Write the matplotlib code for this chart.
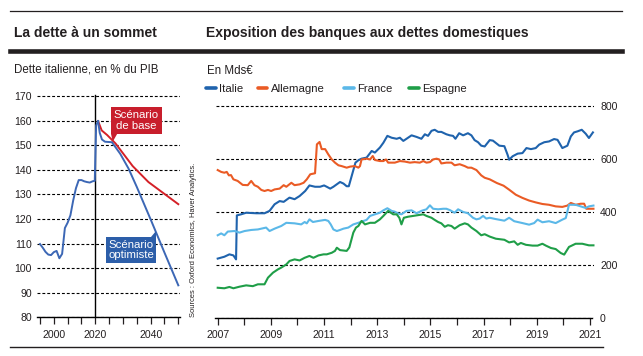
import matplotlib
matplotlib.use("Agg")
import matplotlib.pyplot as plt
from matplotlib.lines import Line2D
from matplotlib.patches import Rectangle, Polygon

plt.rcParams['font.family'] = ['Liberation Sans', 'DejaVu Sans']

# ---------------- données : dette italienne (% du PIB) ----------------
hist_years = [2000, 2001, 2002, 2003, 2004, 2005, 2006, 2007, 2008, 2009, 2010,
              2011, 2012, 2013, 2014, 2015, 2016, 2017, 2018, 2019, 2019.8, 2020.3, 2021]
hist_debt = [109.8, 108.3, 106.6, 105.5, 105.3, 106.5, 107.0, 104.0, 105.8, 116.3, 118.5,
             121.5, 127.5, 132.5, 135.8, 135.8, 135.3, 135.0, 134.8, 135.3, 135.5, 158.0, 159.8]

base_years = [2021, 2022.3, 2024.3, 2027.3, 2033.5, 2039.2, 2050]
base_debt = [159.8, 156.0, 154.1, 150.7, 141.5, 135.0, 126.0]

opt_years = [2021, 2021.6, 2022.4, 2023.5, 2026, 2029, 2032, 2035, 2040.3, 2045, 2050]
opt_debt = [159.8, 155.0, 152.3, 151.4, 151.2, 146.5, 140.5, 133.0, 119.0, 106.3, 93.0]

cutoff_year = 2020
left_ticks = [2000, 2005, 2010, 2015, 2020, 2025, 2030, 2035, 2040, 2045, 2050]
left_ticklabels = ['', '2000', '', '', '2020', '', '', '', '2040', '', '']

# ---------------- données : exposition des banques (Mds€) ----------------
it_x = [2007.0, 2007.25, 2007.44, 2007.59, 2007.69, 2007.72, 2007.88, 2008.07, 2008.45, 2008.76,
        2008.95, 2009.14, 2009.33, 2009.48, 2009.7, 2009.89, 2010.08, 2010.29, 2010.45, 2010.66,
        2010.85, 2011.0, 2011.1, 2011.23, 2011.35, 2011.6, 2011.73, 2011.85, 2011.93, 2012.18,
        2012.29, 2012.41, 2012.6, 2012.79, 2012.91, 2013.1, 2013.23, 2013.38, 2013.54, 2013.73,
        2013.85, 2013.98, 2014.1, 2014.29, 2014.48, 2014.66, 2014.79, 2014.91, 2015.04, 2015.16,
        2015.29, 2015.41, 2015.6, 2015.73, 2015.85, 2015.94, 2016.08, 2016.23, 2016.41, 2016.54,
        2016.66, 2016.79, 2016.91, 2017.04, 2017.23, 2017.35, 2017.59, 2017.78, 2017.9, 2017.96,
        2018.09, 2018.28, 2018.46, 2018.61, 2018.78, 2018.96, 2019.09, 2019.28, 2019.46, 2019.65,
        2019.78, 2019.96, 2020.15, 2020.28, 2020.4, 2020.53, 2020.69, 2020.84, 2020.96, 2021.11]
it_y = [223, 230, 239, 235, 220, 386, 390, 396, 394, 394,
        403, 428, 440, 437, 453, 447, 459, 478, 499, 494,
        494, 499, 494, 487, 494, 512, 506, 496, 496, 585,
        594, 600, 604, 629, 623, 642, 660, 686, 679, 675,
        679, 667, 675, 688, 682, 675, 692, 686, 705, 709,
        701, 701, 692, 688, 686, 675, 696, 688, 696, 688,
        670, 662, 649, 646, 670, 668, 649, 647, 615, 596,
        609, 619, 621, 640, 636, 640, 653, 662, 665, 674,
        671, 640, 649, 684, 699, 703, 709, 694, 678, 699]

de_x = [2007.0, 2007.13, 2007.25, 2007.34, 2007.42, 2007.5, 2007.59, 2007.75, 2007.94, 2008.13,
        2008.26, 2008.38, 2008.51, 2008.64, 2008.76, 2008.89, 2009.01, 2009.14, 2009.33, 2009.48,
        2009.58, 2009.77, 2009.89, 2010.08, 2010.23, 2010.35, 2010.48, 2010.66, 2010.73, 2010.83,
        2010.91, 2011.04, 2011.16, 2011.29, 2011.41, 2011.54, 2011.66, 2011.85, 2011.98, 2012.16,
        2012.29, 2012.35, 2012.41, 2012.6, 2012.73, 2012.83, 2012.91, 2013.1, 2013.23, 2013.33,
        2013.41, 2013.66, 2013.85, 2014.04, 2014.23, 2014.41, 2014.6, 2014.73, 2014.85, 2014.98,
        2015.1, 2015.23, 2015.33, 2015.41, 2015.6, 2015.79, 2015.91, 2016.1, 2016.29, 2016.41,
        2016.54, 2016.73, 2016.91, 2017.04, 2017.23, 2017.5, 2017.75, 2017.96, 2018.21, 2018.46,
        2018.71, 2018.96, 2019.21, 2019.46, 2019.71, 2019.96, 2020.15, 2020.28, 2020.46, 2020.65,
        2020.78, 2020.86, 2021.13]
de_y = [557, 550, 547, 550, 537, 538, 522, 516, 501, 500,
        516, 500, 494, 482, 478, 482, 478, 484, 487, 500,
        494, 509, 500, 503, 509, 522, 541, 545, 654, 663,
        636, 636, 616, 597, 585, 575, 572, 566, 570, 572,
        566, 572, 597, 600, 597, 610, 595, 591, 591, 597,
        585, 585, 591, 589, 585, 587, 585, 591, 585, 587,
        597, 600, 597, 582, 585, 585, 575, 579, 572, 566,
        566, 557, 537, 528, 522, 508, 498, 483, 464, 452,
        442, 435, 429, 426, 420, 418, 423, 433, 426, 430,
        430, 411, 411]

fr_x = [2007.0, 2007.13, 2007.25, 2007.38, 2007.63, 2007.82, 2008.01, 2008.26, 2008.51, 2008.82,
        2008.95, 2009.14, 2009.39, 2009.58, 2009.89, 2010.14, 2010.27, 2010.35, 2010.45, 2010.58,
        2010.79, 2011.04, 2011.16, 2011.25, 2011.35, 2011.48, 2011.6, 2011.73, 2011.91, 2012.1,
        2012.29, 2012.48, 2012.6, 2012.73, 2012.91, 2013.1, 2013.23, 2013.38, 2013.54, 2013.66,
        2013.79, 2013.91, 2014.1, 2014.29, 2014.48, 2014.66, 2014.85, 2014.98, 2015.1, 2015.29,
        2015.48, 2015.6, 2015.73, 2015.91, 2016.04, 2016.23, 2016.41, 2016.6, 2016.73, 2016.85,
        2016.98, 2017.1, 2017.23, 2017.46, 2017.78, 2017.96, 2018.15, 2018.46, 2018.71, 2018.9,
        2019.03, 2019.21, 2019.46, 2019.71, 2019.96, 2020.09, 2020.21, 2020.46, 2020.65, 2020.84,
        2020.96, 2021.13]
fr_y = [311, 318, 311, 325, 327, 321, 327, 331, 333, 340,
        327, 336, 346, 358, 356, 352, 361, 356, 371, 361,
        365, 369, 365, 352, 333, 327, 331, 336, 340, 352,
        358, 365, 369, 384, 390, 396, 405, 413, 403, 400,
        393, 390, 403, 405, 394, 403, 409, 424, 411, 409,
        411, 411, 406, 396, 409, 399, 394, 377, 371, 374,
        384, 374, 377, 372, 366, 377, 364, 357, 351, 357,
        370, 360, 364, 357, 370, 376, 426, 426, 420, 414,
        420, 423]

es_x = [2007.0, 2007.25, 2007.44, 2007.59, 2007.82, 2008.07, 2008.32, 2008.51, 2008.76, 2008.89,
        2009.08, 2009.26, 2009.39, 2009.58, 2009.7, 2009.89, 2010.08, 2010.27, 2010.45, 2010.6,
        2010.79, 2010.98, 2011.1, 2011.29, 2011.41, 2011.48, 2011.6, 2011.85, 2011.95, 2012.1,
        2012.2, 2012.29, 2012.41, 2012.54, 2012.73, 2012.91, 2013.1, 2013.23, 2013.41, 2013.6,
        2013.73, 2013.83, 2013.91, 2014.0, 2014.16, 2014.35, 2014.54, 2014.73, 2014.85, 2015.04,
        2015.16, 2015.29, 2015.41, 2015.54, 2015.66, 2015.79, 2015.91, 2016.1, 2016.29, 2016.41,
        2016.54, 2016.73, 2016.91, 2017.04, 2017.23, 2017.46, 2017.78, 2017.96, 2018.15, 2018.28,
        2018.4, 2018.59, 2018.84, 2019.03, 2019.21, 2019.34, 2019.53, 2019.71, 2019.9, 2020.03,
        2020.21, 2020.46, 2020.71, 2020.96, 2021.13]
es_y = [113, 111, 116, 111, 117, 122, 119, 126, 126, 151,
        170, 182, 189, 201, 214, 220, 216, 226, 233, 226,
        235, 239, 239, 245, 252, 264, 255, 252, 265, 321,
        340, 346, 365, 352, 358, 358, 371, 384, 403, 390,
        390, 377, 352, 377, 381, 384, 387, 390, 384, 377,
        369, 361, 356, 343, 349, 346, 336, 349, 356, 352,
        340, 327, 311, 315, 306, 298, 294, 284, 288, 275,
        282, 275, 272, 272, 279, 272, 263, 259, 244, 238,
        267, 279, 279, 273, 273]

series_names = ['Italie', 'Allemagne', 'France', 'Espagne']
series_x = [it_x, de_x, fr_x, es_x]
series_y = [it_y, de_y, fr_y, es_y]
series_colors = ['#1f63ad', '#ea5b25', '#5bb8e8', '#1f9e48']

right_ticks = list(range(2007, 2022))
right_ticklabels = [str(y) if y % 2 == 1 else '' for y in right_ticks]

# ---------------- mise en page ----------------
W, H = 643, 356
def fx(px):
    return px / W
def fy(py):
    return 1 - py / H

ink = '#231f20'
fig = plt.figure(figsize=(W / 100, H / 100), dpi=100)

# filets
fig.add_artist(Line2D([fx(10), fx(622)], [fy(11), fy(11)], color=ink, lw=0.9))
fig.add_artist(Line2D([fx(10), fx(622)], [fy(51.3), fy(51.3)], color=ink, lw=3.3))
fig.add_artist(Line2D([fx(10), fx(603)], [fy(346.7), fy(346.7)], color=ink, lw=1.0))

# titres
fig.text(fx(14), fy(37.3), 'La dette à un sommet', fontsize=10, fontweight='bold',
         color=ink, va='baseline')
fig.text(fx(205.7), fy(37.3), 'Exposition des banques aux dettes domestiques', fontsize=10,
         fontweight='bold', color=ink, va='baseline')
fig.text(fx(13.5), fy(72.7), 'Dette italienne, en % du PIB', fontsize=8.3, color=ink, va='baseline')
fig.text(fx(207), fy(73.5), 'En Mds€', fontsize=8.3, color=ink, va='baseline')

# légende
leg_marker_x = [205, 256.7, 343.3, 408.3]
for name, col, mx in zip(series_names, series_colors, leg_marker_x):
    fig.add_artist(Line2D([fx(mx + 1), fx(mx + 10.7)], [fy(88.3), fy(88.3)], color=col,
                          lw=2.6, solid_capstyle='round'))
    fig.text(fx(mx + 14.3), fy(91.7), name, fontsize=8.2, color=ink, va='baseline')

# source
fig.text(fx(193.5), fy(317), 'Sources : Oxford Economics, Haver Analytics.', rotation=90,
         fontsize=5.4, color=ink, ha='center', va='bottom')

grid_kw = dict(color='black', linestyle=(0, (2.6, 1.8)), linewidth=0.8)

# ---------------- graphique gauche ----------------
ax1 = fig.add_axes([fx(37), fy(317.3), (180 - 37) / W, (317.3 - 92.3) / H])
ax1.set_xlim(1998.92, 2050.61)
ax1.set_ylim(80, 171.5)
ax1.plot(base_years, base_debt, color='#d42027', lw=1.4, zorder=3)
ax1.plot(opt_years, opt_debt, color='#3c67b5', lw=1.4, zorder=3)
ax1.plot(hist_years, hist_debt, color='#3c67b5', lw=1.4, zorder=3)
ax1.axvline(cutoff_year, ymin=0, ymax=(170.5 - 80) / (171.5 - 80), color='black', lw=1.0, zorder=2)

ax1.set_yticks(range(80, 171, 10))
ax1.set_xticks(left_ticks)
ax1.set_xticklabels(left_ticklabels)
ax1.yaxis.grid(True, **grid_kw)
for side in ['top', 'right', 'left']:
    ax1.spines[side].set_visible(False)
ax1.spines['bottom'].set_linewidth(1.0)
ax1.tick_params(axis='x', length=5, width=0.9, pad=4, labelsize=7.6, colors=ink)
ax1.tick_params(axis='y', length=0, pad=3.6, labelsize=7.6, colors=ink)
ax1.set_facecolor('none')

# étiquettes des scénarios
red_box = '#c81e2c'
blue_box = '#2c5ea9'
ax1.add_patch(Rectangle((2025.67, 154.5), 18.4, 11.0, facecolor=red_box, edgecolor='none',
                        zorder=4, clip_on=False))
ax1.add_patch(Polygon([(2025.67, 154.6), (2027.9, 154.6), (2026.3, 151.4)], closed=True,
                      facecolor=red_box, edgecolor='none', zorder=4, clip_on=False))
ax1.text(2034.9, 160.0, 'Scénario\nde base', color='white', fontsize=8.2, ha='center',
         va='center', linespacing=1.05, zorder=5)

ax1.add_patch(Rectangle((2023.9, 102.0), 18.0, 10.8, facecolor=blue_box, edgecolor='none',
                        zorder=4, clip_on=False))
ax1.add_patch(Polygon([(2040.1, 112.7), (2041.9, 112.7), (2041.9, 115.2)], closed=True,
                      facecolor=blue_box, edgecolor='none', zorder=4, clip_on=False))
ax1.text(2032.9, 107.4, 'Scénario\noptimiste', color='white', fontsize=8.2, ha='center',
         va='center', linespacing=1.05, zorder=5)

# ---------------- graphique droit ----------------
ax2 = fig.add_axes([fx(215.5), fy(317.7), (593.5 - 215.5) / W, (317.7 - 103) / H])
ax2.set_xlim(2006.917, 2021.132)
ax2.set_ylim(0, 810)
for xs, ys, col in zip(series_x, series_y, series_colors):
    ax2.plot(xs, ys, color=col, lw=1.5, zorder=3, clip_on=False)

ax2.set_yticks([0, 200, 400, 600, 800])
ax2.set_xticks(right_ticks)
ax2.set_xticklabels(right_ticklabels)
ax2.yaxis.tick_right()
ax2.yaxis.grid(True, **grid_kw)
for side in ['top', 'right', 'left']:
    ax2.spines[side].set_visible(False)
ax2.spines['bottom'].set_linewidth(1.0)
ax2.spines['bottom'].set_bounds(2006.9, 2021.06)
ax2.tick_params(axis='x', length=5, width=0.9, pad=4, labelsize=7.6, colors=ink)
ax2.tick_params(axis='y', length=0, pad=4.7, labelsize=7.6, colors=ink)
ax2.set_facecolor('none')

fig.savefig('out.png', dpi=100)
